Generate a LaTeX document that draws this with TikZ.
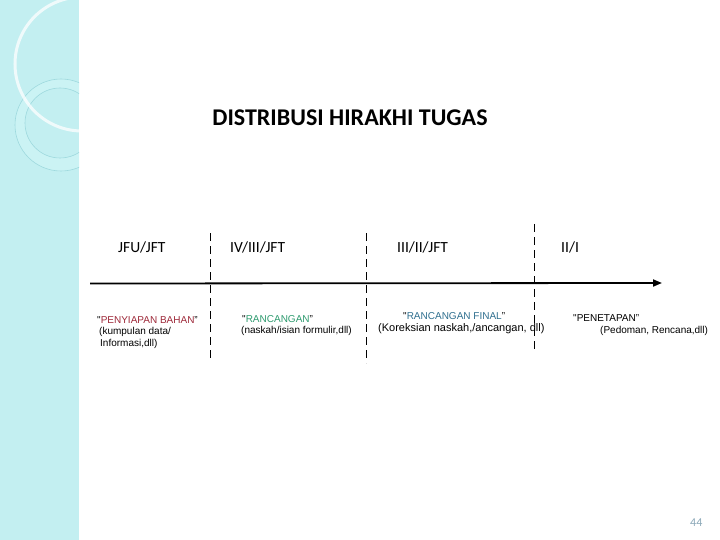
\documentclass[tikz,border=0pt]{standalone}
\usepackage{fontspec}
\setmainfont{Carlito}
\newfontfamily\smallsans{Liberation Sans}
\usetikzlibrary{arrows.meta}
\definecolor{bandcol}{HTML}{C3EFF1}
\definecolor{bandlight}{HTML}{D8F6F7}
\definecolor{ringcol}{HTML}{9ED9DE}
\definecolor{ringfill}{HTML}{CBF3F4}
\definecolor{redtxt}{HTML}{9E2A3A}
\definecolor{greentxt}{HTML}{2E9B6F}
\definecolor{bluetxt}{HTML}{2F6F8F}
\definecolor{pagecol}{HTML}{8BA8B8}
\tikzset{
  lbl/.style={inner sep=0pt, anchor=west},
  hdr/.style={lbl, font=\fontsize{15.5}{18}\selectfont},
  small/.style={lbl, font=\smallsans\fontsize{10}{12}\selectfont},
  divider/.style={draw=black, line width=0.9pt, dash pattern=on 8pt off 5pt},
  axisline/.style={draw=black, line width=1.8pt, -{Triangle[length=9pt,width=7pt]}}
}
\begin{document}
\begin{tikzpicture}[x=1pt,y=-1pt]
\useasboundingbox (0,0) rectangle (720,540);
\fill[white] (0,0) rectangle (720,540);
% decorative band
\begin{scope}
  \clip (0,0) rectangle (79,540);
  \fill[bandcol] (0,0) rectangle (79,540);
  \fill[bandlight] (0,0) -- (63,0) arc[start angle=0, end angle=-90, radius=63] -- cycle;
  \draw[ringcol, line width=0.4pt] (63,0) arc[start angle=0, end angle=-90, radius=63];
  \fill[ringfill, even odd rule] (61,125) circle[radius=46] (60,123) circle[radius=35];
  \draw[ringcol, line width=0.6pt] (61,125) circle[radius=46];
  \draw[ringcol, line width=0.6pt] (60,123) circle[radius=35];
  \draw[white, line width=3pt, opacity=0.75] (82,64) circle[radius=67];
\end{scope}
% title
\node[inner sep=0pt, font=\bfseries\fontsize{24}{28}\selectfont] (title) at (350,118) {DISTRIBUSI HIRAKHI TUGAS};
% headers
\node[hdr] (h1) at (118,247) {JFU/JFT};
\node[hdr] (h2) at (230,247) {IV/III/JFT};
\node[hdr] (h3) at (397,247) {III/II/JFT};
\node[hdr] (h4) at (561,247) {II/I};
% axis
\coordinate (axL) at (90,283.5);
\coordinate (axR) at (662,283);
\draw[axisline] (axL) -- (axR);
% dividers
\coordinate (d1t) at (210,233); \coordinate (d1b) at (210,360);
\coordinate (d2t) at (366,233); \coordinate (d2b) at (366,363);
\coordinate (d3t) at (534,224); \coordinate (d3b) at (534,353);
\draw[divider] (d1t) -- (d1b);
\draw[divider] (d2t) -- (d2b);
\draw[divider] (d3t) -- (d3b);
% column texts
\node[small] (t1a) at (97,320) {"\textcolor{redtxt}{PENYIAPAN BAHAN}”};
\node[small] (t1b) at (99,332) {(kumpulan data/};
\node[small] (t1c) at (100,344) {Informasi,dll)};
\node[small] (t2a) at (242,319) {"\textcolor{greentxt}{RANCANGAN}”};
\node[small] (t2b) at (241,331) {(naskah/isian formulir,dll)};
\node[small] (t3a) at (403,316) {"\textcolor{bluetxt}{RANCANGAN FINAL}”};
\node[lbl, font=\smallsans\fontsize{11}{13}\selectfont] (t3b) at (378,328.5) {(Koreksian naskah,/ancangan, dll)};
\node[small] (t4a) at (573,318) {"PENETAPAN”};
\node[small] (t4b) at (600,331) {(Pedoman, Rencana,dll)};
% page number
\node[lbl, text=pagecol, font=\fontsize{12}{14}\selectfont] (pg) at (690,523) {44};
\end{tikzpicture}
\end{document}
